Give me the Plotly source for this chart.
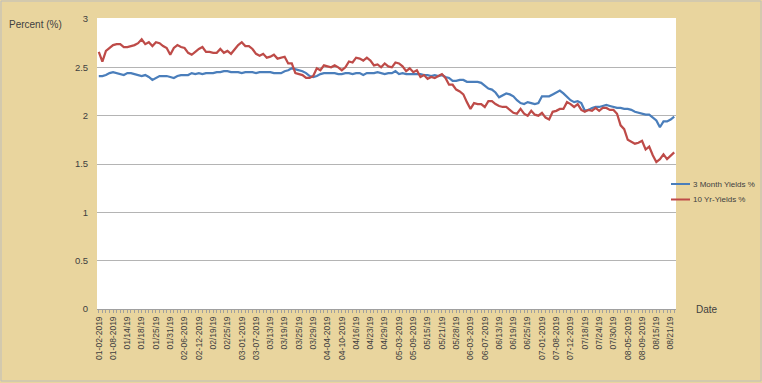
import pandas as pd
import plotly.graph_objects as go

# ---- data ----
holidays = ["2019-01-21", "2019-02-18", "2019-04-19", "2019-05-27", "2019-07-04"]
trade_days = [d for d in pd.bdate_range("2019-01-02", "2019-08-22")
              if d.strftime("%Y-%m-%d") not in holidays]
categories = [d.strftime("%Y-%m-%d") for d in trade_days]

def fmt(d):
    if d.day <= 12:
        return f"{d.month:02d}-{d.day:02d}-{d.year}"
    return f"{d.month:02d}/{d.day:02d}/{str(d.year)[2:]}"

tick_labels = [fmt(d) if i % 4 == 0 else "" for i, d in enumerate(trade_days)]

yield_3m = [
    2.41, 2.41, 2.42, 2.44, 2.45, 2.44, 2.43, 2.42, 2.44, 2.44,
    2.43, 2.42, 2.41, 2.42, 2.40, 2.37, 2.39, 2.41, 2.41, 2.41,
    2.40, 2.39, 2.41, 2.42, 2.42, 2.42, 2.44, 2.43, 2.44, 2.43,
    2.44, 2.44, 2.44, 2.45, 2.45, 2.46, 2.46, 2.45, 2.45, 2.45,
    2.44, 2.45, 2.45, 2.45, 2.44, 2.45, 2.45, 2.45, 2.45, 2.44,
    2.44, 2.44, 2.46, 2.47, 2.49, 2.48, 2.47, 2.46, 2.44, 2.41,
    2.40, 2.41, 2.43, 2.44, 2.44, 2.44, 2.44, 2.43, 2.43, 2.44,
    2.44, 2.43, 2.44, 2.44, 2.42, 2.44, 2.44, 2.44, 2.45, 2.44,
    2.43, 2.44, 2.44, 2.46, 2.43, 2.44, 2.43, 2.43, 2.43, 2.43,
    2.43, 2.42, 2.42, 2.41, 2.42, 2.41, 2.42, 2.40, 2.39, 2.36,
    2.36, 2.37, 2.37, 2.35, 2.35, 2.35, 2.35, 2.34, 2.31, 2.28,
    2.27, 2.24, 2.19, 2.21, 2.23, 2.22, 2.20, 2.16, 2.13, 2.12,
    2.14, 2.13, 2.12, 2.13, 2.20, 2.20, 2.20, 2.22, 2.24, 2.26,
    2.23, 2.19, 2.16, 2.14, 2.15, 2.13, 2.05, 2.06, 2.08, 2.09,
    2.09, 2.10, 2.11, 2.10, 2.09, 2.08, 2.08, 2.07, 2.07, 2.06,
    2.04, 2.03, 2.02, 2.01, 2.01, 1.98, 1.95, 1.88, 1.94, 1.94,
    1.96, 1.99,
]

yield_10y = [
    2.66, 2.56, 2.67, 2.70, 2.73, 2.74, 2.74, 2.71, 2.71, 2.72,
    2.73, 2.75, 2.79, 2.74, 2.76, 2.72, 2.76, 2.75, 2.72, 2.70,
    2.63, 2.70, 2.73, 2.71, 2.70, 2.65, 2.63, 2.66, 2.69, 2.71,
    2.66, 2.66, 2.65, 2.65, 2.69, 2.65, 2.67, 2.64, 2.69, 2.73,
    2.76, 2.72, 2.72, 2.69, 2.64, 2.62, 2.64, 2.60, 2.61, 2.63,
    2.59, 2.60, 2.61, 2.54, 2.54, 2.44, 2.43, 2.42, 2.39, 2.39,
    2.41, 2.49, 2.47, 2.52, 2.51, 2.50, 2.52, 2.50, 2.47, 2.50,
    2.56, 2.55, 2.60, 2.59, 2.57, 2.60, 2.57, 2.52, 2.53, 2.50,
    2.54, 2.51, 2.50, 2.55, 2.54, 2.51, 2.46, 2.49, 2.45, 2.47,
    2.40, 2.42, 2.38, 2.40, 2.39, 2.41, 2.43, 2.39, 2.32, 2.32,
    2.27, 2.25, 2.22, 2.14, 2.07, 2.13, 2.12, 2.12, 2.09, 2.15,
    2.15, 2.12, 2.10, 2.09, 2.09, 2.06, 2.03, 2.02, 2.07, 2.02,
    2.00, 2.05, 2.01, 2.00, 2.03, 1.98, 1.96, 2.04, 2.05, 2.07,
    2.07, 2.14, 2.12, 2.09, 2.12, 2.06, 2.04, 2.06, 2.05, 2.08,
    2.05, 2.08, 2.08, 2.06, 2.06, 2.02, 1.90, 1.86, 1.75, 1.73,
    1.71, 1.72, 1.74, 1.65, 1.68, 1.59, 1.52, 1.55, 1.60, 1.55,
    1.59, 1.62,
]

series_names = ["3 Month Yields %", "10 Yr-Yields %"]
series_colors = ["#4A7EBB", "#BE4B48"]
y_ticks = [0, 0.5, 1, 1.5, 2, 2.5, 3]

# ---- figure ----
W, H = 762, 383
L, R, T, B = 97, 86, 19, 74
pw, ph = W - L - R, H - T - B

fig = go.Figure()
for name, vals, col in zip(series_names, [yield_3m, yield_10y], series_colors):
    fig.add_trace(go.Scatter(x=categories, y=vals, mode="lines", name=name,
                             line=dict(color=col, width=2.25), showlegend=False))

font = "Liberation Sans, Arial, sans-serif"

def px_x(p):
    return (p - L) / pw

def px_y(p):
    return (H - B - p) / ph

shapes = [
    dict(type="rect", xref="paper", yref="paper",
         x0=px_x(1), x1=px_x(W - 1), y0=px_y(H - 2), y1=px_y(1),
         line=dict(color="#BDBDBD", width=1), layer="below"),
    # hide the gridline on the top edge of the plot area
    dict(type="line", xref="paper", yref="paper", x0=0, x1=1, y0=1, y1=1,
         line=dict(color="#FFFFFF", width=2), layer="below"),
]
annotations = [
    dict(text="Percent (%)", xref="paper", yref="paper", x=px_x(7), y=px_y(24),
         xanchor="left", yanchor="middle", showarrow=False,
         font=dict(family=font, size=10, color="#404040")),
    dict(text="Date", xref="paper", yref="paper", x=px_x(694), y=px_y(310),
         xanchor="left", yanchor="middle", showarrow=False,
         font=dict(family=font, size=10, color="#404040")),
]
for i, (name, col) in enumerate(zip(series_names, series_colors)):
    yy = 184 + i * 15.5
    shapes.append(dict(type="line", xref="paper", yref="paper",
                       x0=px_x(671), x1=px_x(690), y0=px_y(yy), y1=px_y(yy),
                       line=dict(color=col, width=2)))
    annotations.append(dict(text=name, xref="paper", yref="paper",
                            x=px_x(691), y=px_y(yy), xanchor="left", yanchor="middle",
                            showarrow=False,
                            font=dict(family=font, size=8, color="#404040")))

fig.update_layout(
    width=W, height=H,
    margin=dict(l=L, r=R, t=T, b=B, autoexpand=False),
    paper_bgcolor="#E9D59E",
    plot_bgcolor="#FFFFFF",
    showlegend=False,
    shapes=shapes,
    annotations=annotations,
    xaxis=dict(type="category", range=[-0.5, len(categories) - 0.5],
               tickmode="array", tickvals=categories, ticktext=tick_labels,
               tickangle=-90, tickfont=dict(family=font, size=8.5, color="#404040"),
               showgrid=False, showline=True, linecolor="#A0A0A0", linewidth=1,
               ticks="outside", ticklen=3, tickcolor="#A0A0A0", zeroline=False),
    yaxis=dict(range=[0, 3], tickvals=y_ticks, ticktext=[f"{v:g}" for v in y_ticks],
               tickfont=dict(family=font, size=9.5, color="#404040"),
               showgrid=True, gridcolor="#B4B4B4", gridwidth=1,
               showline=False, zeroline=False,
               ticks="outside", ticklen=6, tickcolor="rgba(0,0,0,0)"),
)

fig.write_html("out.html",
               config={"displayModeBar": False},
               post_script="document.body.style.margin='0';document.body.style.overflow='hidden';")
